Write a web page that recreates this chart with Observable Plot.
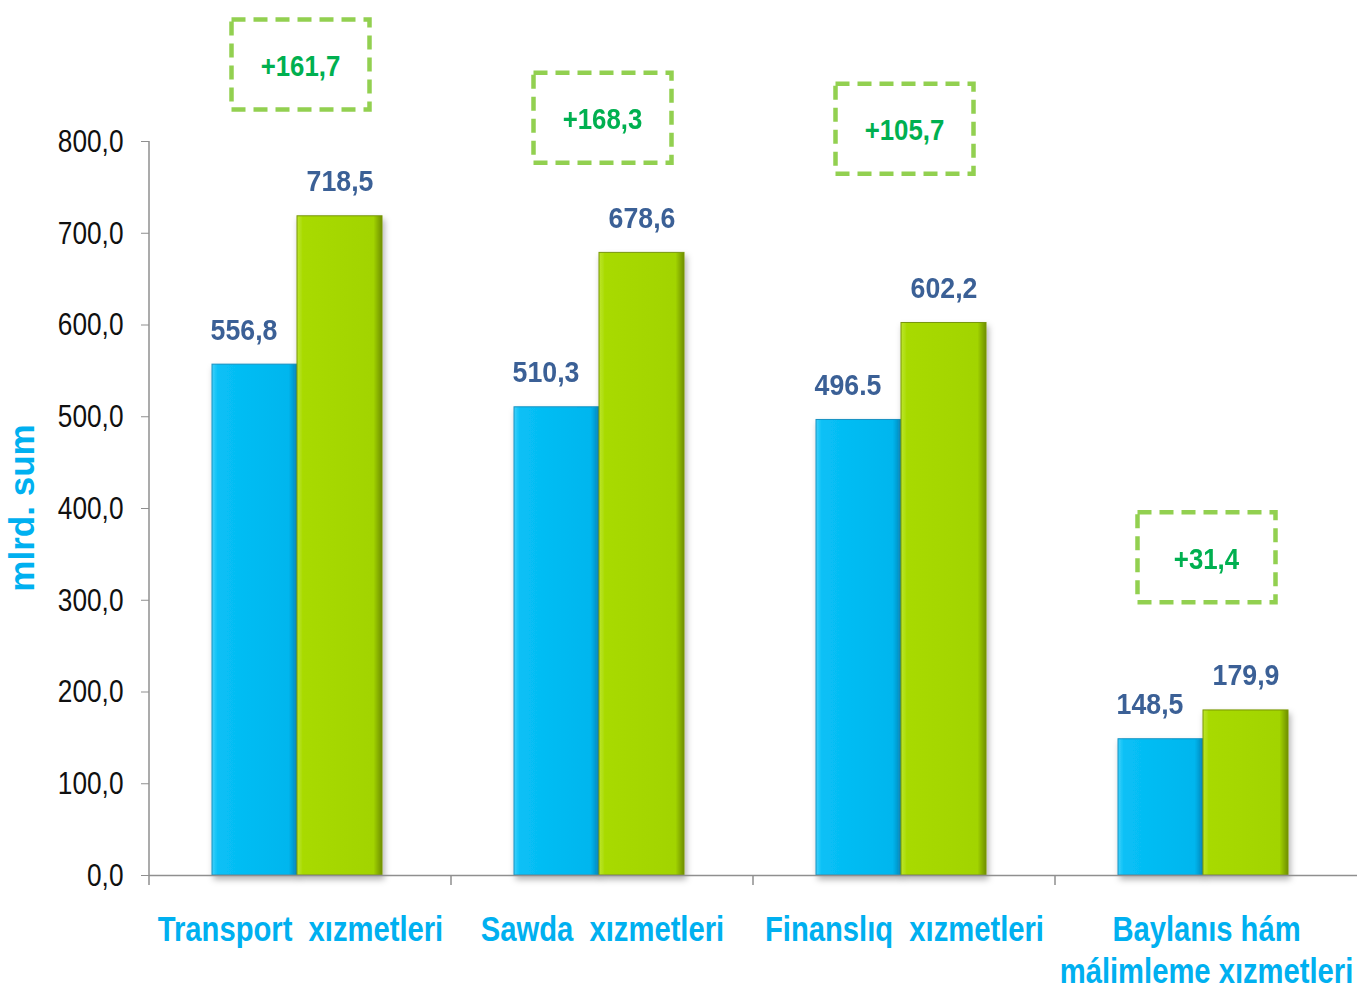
<!DOCTYPE html>
<html><head><meta charset="utf-8">
<script src="https://cdn.jsdelivr.net/npm/d3@7"></script>
<script src="https://cdn.jsdelivr.net/npm/@observablehq/plot@0.6"></script>
<style>body{margin:0;background:#fff;} #chart{width:1357px;height:990px;} svg text{white-space:pre;}</style>
</head><body><div id="chart"></div>
<script>
// ---- data ----
const categories = ["Transport xızmetleri", "Sawda xızmetleri", "Finanslıq xızmetleri", "Baylanıs hám málimleme xızmetleri"];
const categoryLabels = ["Transport  xızmetleri", "Sawda  xızmetleri", "Finanslıq  xızmetleri", "Baylanıs hám\nmálimleme xızmetleri"];
const seriesKeys = ["period1", "period2"];
const values1 = [556.8, 510.3, 496.5, 148.5];
const values2 = [718.5, 678.6, 602.2, 179.9];
const labels1 = ["556,8", "510,3", "496.5", "148,5"];
const labels2 = ["718,5", "678,6", "602,2", "179,9"];
const yTicks = [0, 100, 200, 300, 400, 500, 600, 700, 800];
const diffLabels = ["+161,7", "+168,3", "+105,7", "+31,4"];
const diffAnchor = [884, 826, 814, 347]; // annotation anchor (y value units)
const yLabel = "mlrd. sum";

// ---- styles ----
const FONT = "'Liberation Sans',Arial,sans-serif";
const AXIS_GRAY = "#8f8f8f";
const C_TICK = "#101010", C_CAT = "#00b0f0", C_VAL = "#3b6096", C_DIFF = "#00b050", C_BOX = "#92d050";

const rows = categories.flatMap((c, i) => [
  {category: c, series: seriesKeys[0], value: values1[i], label: labels1[i]},
  {category: c, series: seriesKeys[1], value: values2[i], label: labels2[i]}
]);
const diffRows = categories.map((c, i) => ({category: c, y: diffAnchor[i], label: diffLabels[i]}));
const labelOf = new Map(categories.map((c, i) => [c, categoryLabels[i]]));

const defs = () => d3.create("svg:defs").html(`
  <linearGradient id="gBlue" x1="0" x2="1" y1="0" y2="0">
    <stop offset="0" stop-color="#40d0fa"/><stop offset="0.07" stop-color="#08c0f6"/>
    <stop offset="0.9" stop-color="#00b6ee"/><stop offset="1" stop-color="#0a8cc0"/>
  </linearGradient>
  <linearGradient id="gGreen" x1="0" x2="1" y1="0" y2="0">
    <stop offset="0" stop-color="#bde62a"/><stop offset="0.07" stop-color="#a8da02"/>
    <stop offset="0.9" stop-color="#a2d400"/><stop offset="1" stop-color="#6f8f00"/>
  </linearGradient>
  <linearGradient id="tBlue" x1="0" x2="1"><stop offset="0" stop-color="#60dcff"/><stop offset="1" stop-color="#3ccff8"/></linearGradient>
  <linearGradient id="tGreen" x1="0" x2="1"><stop offset="0" stop-color="#cdf040"/><stop offset="1" stop-color="#b6e418"/></linearGradient>
  <filter id="shadow" x="-20%" y="-5%" width="140%" height="115%">
    <feDropShadow dx="2" dy="4" stdDeviation="3" flood-color="#000" flood-opacity="0.3"/>
  </filter>`).node();

// dashed annotation box as a custom symbol
const boxSymbol = {draw(ctx) { ctx.rect(-69, -45, 138, 90); }};

const isP1 = d => d.series === seriesKeys[0];
const isP2 = d => d.series === seriesKeys[1];

const plot = Plot.plot({
  width: 1357, height: 990,
  marginTop: 141, marginBottom: 115, marginLeft: 148, marginRight: 0,
  style: {fontFamily: FONT, background: "#fff", overflow: "visible"},
  fx: {domain: categories, padding: 0, label: null},
  x: {domain: seriesKeys, paddingInner: 0, paddingOuter: 0.77, align: 0.48, axis: null},
  y: {domain: [0, 800], axis: null},
  marks: [
    defs,
    Plot.axisY({ticks: yTicks, tickFormat: d => d.toFixed(1).replace(".", ","), tickSize: 8, tickPadding: 18,
      fontSize: 32, stroke: AXIS_GRAY, color: C_TICK, label: null}),
    Plot.axisFx({anchor: "bottom", tickSize: 0, tickPadding: 36, fontSize: 35, fontWeight: "bold",
      color: C_CAT, lineHeight: 1.2, tickFormat: c => labelOf.get(c), label: null}),
    Plot.barY(rows.filter(isP1), {fx: "category", x: "series", y: "value", fill: "url(#gBlue)", stroke: "#1592c2", strokeWidth: 1}),
    Plot.barY(rows.filter(isP2), {fx: "category", x: "series", y: "value", fill: "url(#gGreen)", stroke: "#78960a", strokeWidth: 1}),
    Plot.tickY(rows.filter(isP1), {fx: "category", x: "series", y: "value", stroke: "url(#tBlue)", strokeWidth: 8, dy: 4, inset: 1}),
    Plot.tickY(rows.filter(isP2), {fx: "category", x: "series", y: "value", stroke: "url(#tGreen)", strokeWidth: 8, dy: 4, inset: 1}),
    Plot.ruleY([0], {stroke: AXIS_GRAY, strokeWidth: 1.5}),
    Plot.text(rows.filter(isP1), {fx: "category", x: "series", y: "value", text: "label", fill: C_VAL,
      fontSize: 30, fontWeight: "bold", lineAnchor: "bottom", dy: -25, dx: -11}),
    Plot.text(rows.filter(isP2), {fx: "category", x: "series", y: "value", text: "label", fill: C_VAL,
      fontSize: 30, fontWeight: "bold", lineAnchor: "bottom", dy: -25}),
    Plot.dot(diffRows, {fx: "category", y: "y", symbol: boxSymbol, fill: "none", stroke: C_BOX, strokeWidth: 4.5,
      strokeDasharray: "14 8"}),
    Plot.text(diffRows, {fx: "category", y: "y", text: "label", fill: C_DIFF, fontSize: 30, fontWeight: "bold", dy: 2})
  ]
});

document.getElementById("chart").appendChild(plot);

// ---- decorations from the library's scales ----
const svg = d3.select(plot);
const fxS = plot.scale("fx"), yS = plot.scale("y");
const y0 = yS.apply(0), yTop = yS.apply(800);
const xLeft = fxS.apply(categories[0]);
const axisG = svg.append("g").attr("stroke", AXIS_GRAY).attr("stroke-width", 1.5);
axisG.append("line").attr("x1", xLeft).attr("x2", xLeft).attr("y1", yTop).attr("y2", y0);
categories.forEach(c => {
  const x = fxS.apply(c);
  axisG.append("line").attr("x1", x).attr("x2", x).attr("y1", y0).attr("y2", y0 + 10);
});
svg.selectAll('g[aria-label="bar"]').attr("filter", "url(#shadow)");

// y-axis title
svg.append("text").text(yLabel)
  .attr("transform", `translate(${xLeft - 115},${(yTop + y0) / 2}) rotate(-90)`)
  .attr("text-anchor", "middle").attr("fill", C_CAT).attr("font-weight", "bold")
  .attr("font-size", 35).attr("font-family", FONT);

// narrow the text horizontally around its anchor (reference uses a condensed face)
const squeeze = new Map([[d3.color(C_TICK) + "", 0.82], [d3.color(C_CAT) + "", 0.834], [d3.color(C_VAL) + "", 0.89], [d3.color(C_DIFF) + "", 0.86]]);
plot.querySelectorAll("text").forEach(t => {
  if (t.textContent === yLabel) return;
  const fill = d3.color(getComputedStyle(t).fill);
  const s = fill && squeeze.get(fill + "");
  if (!s) return;
  const px = parseFloat(t.getAttribute("x")) || 0;
  const tr = t.getAttribute("transform") || "";
  t.setAttribute("transform", `${tr} translate(${px},0) scale(${s},1) translate(${-px},0)`);
});
</script>
</body></html>
